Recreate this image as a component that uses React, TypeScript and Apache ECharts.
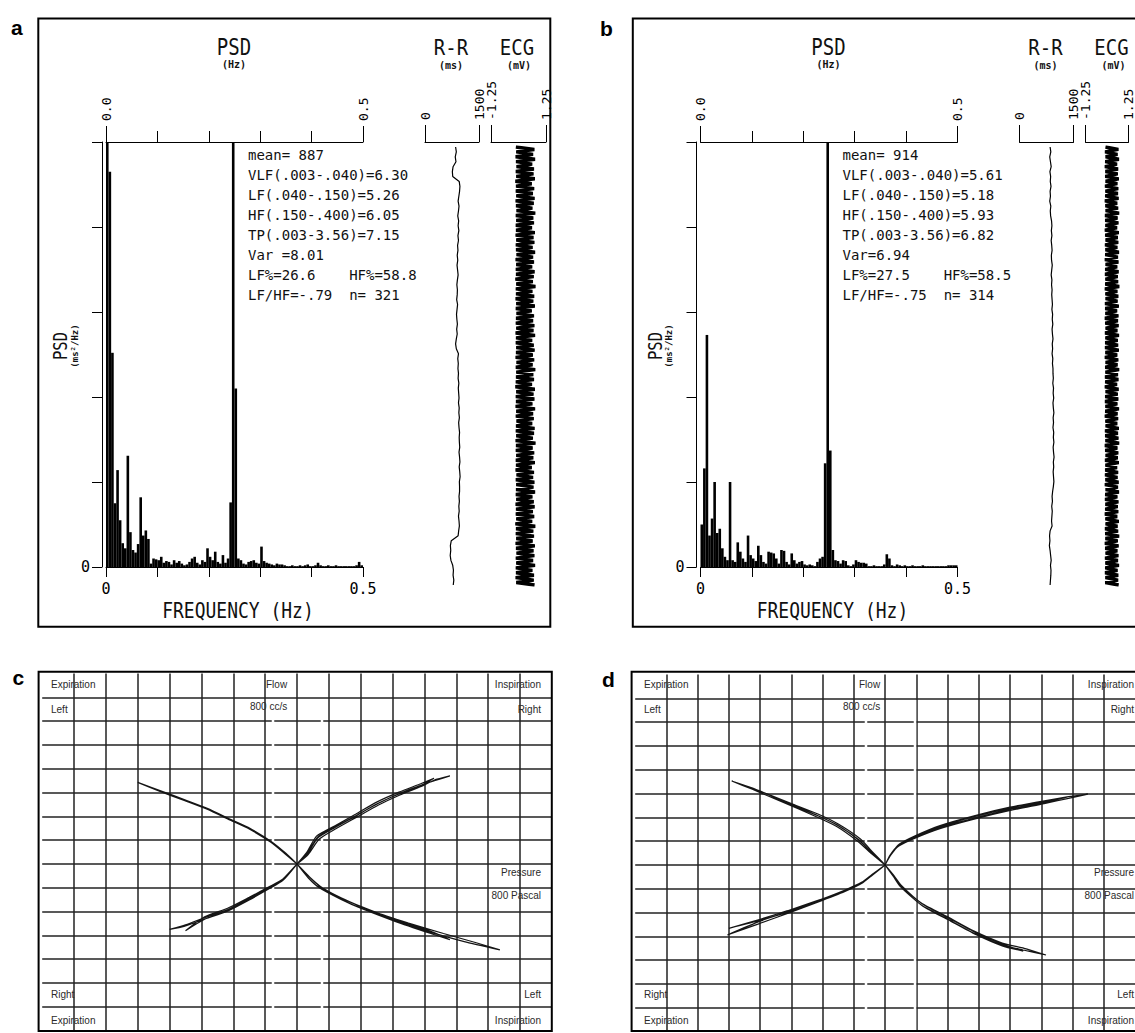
import React, { useEffect, useRef } from "react";
import * as echarts from "echarts";

const CHART_W = 1135;
const CHART_H = 1033;

// ---------- Panels a & b: PSD spectra (0.005 Hz bins, axis units 0–5, values ≥5 are off scale) ----------
const psdBinHz = 0.005;
const psdBottomLabelsHz = [0, 0.5];
const psdYLabels = [0];

const psdA = [
  5, 4.65, 2.52, 0.75, 1.14, 0.55, 0.28, 0.22, 1.31, 0.41,
  0.2, 0.17, 0.27, 0.82, 0.37, 0.43, 0.33, 0.04, 0.1, 0.09,
  0.08, 0.12, 0.05, 0.07, 0.06, 0.03, 0.08, 0.05, 0.07, 0.04,
  0.02, 0.03, 0.06, 0.1, 0.12, 0.05, 0.03, 0.08, 0.06, 0.22,
  0.12, 0.08, 0.18, 0.06, 0.04, 0.14, 0.05, 0.1, 0.76, 5,
  2.1, 0.1, 0.08, 0.04, 0.03, 0.06, 0.07, 0.08, 0.05, 0.04,
  0.24, 0.07, 0.05, 0.04, 0.03, 0.02, 0.04, 0.03, 0.03, 0.02,
  0.01, 0.01, 0.02, 0.01, 0.01, 0.02, 0.01, 0.02, 0.03, 0.01,
  0.01, 0.02, 0.05, 0.02, 0.01, 0.01, 0.02, 0.01, 0.01, 0.02,
  0.01, 0.01, 0.01, 0.01, 0.01, 0.01, 0.01, 0.02, 0.06, 0.02,
];
const psdB = [
  0.5, 1.16, 2.73, 0.37, 0.57, 1.0, 0.4, 0.45, 0.22, 0.12,
  0.08, 1.0, 0.08, 0.06, 0.29, 0.18, 0.1, 0.06, 0.37, 0.14,
  0.1, 0.07, 0.25, 0.14, 0.06, 0.04, 0.18, 0.17, 0.16, 0.1,
  0.04, 0.2, 0.19, 0.06, 0.03, 0.16, 0.08, 0.04, 0.06, 0.07,
  0.03, 0.02, 0.03, 0.02, 0.01, 0.06, 0.1, 0.12, 1.22, 5,
  1.37, 0.2, 0.08, 0.07, 0.04, 0.08, 0.07, 0.02, 0.01, 0.03,
  0.08, 0.06, 0.05, 0.05, 0.04, 0.01, 0.01, 0.02, 0.01, 0.01,
  0.01, 0.03, 0.15, 0.1, 0.02, 0.01, 0.03, 0.02, 0.01, 0.02,
  0.01, 0.01, 0.02, 0.01, 0.01, 0.01, 0.02, 0.01, 0.01, 0.01,
  0.01, 0.01, 0.01, 0.01, 0.01, 0.01, 0.02, 0.02, 0.02, 0.02,
];

// R-R intervals (ms), in time order from top to bottom
const rrA = [
  850, 870, 840, 860, 780, 760, 770, 950, 970, 960,
  940, 920, 945, 930, 910, 935, 920, 940, 915, 930,
  905, 915, 895, 910, 890, 905, 920, 900, 885, 900,
  895, 880, 905, 890, 875, 885, 900, 880, 895, 870,
  850, 870, 930, 910, 925, 915, 930, 920, 940, 925,
  935, 945, 930, 950, 940, 955, 935, 945, 960, 950,
  955, 965, 945, 960, 970, 950, 965, 975, 955, 960,
  960, 945, 955, 940, 950, 930, 945, 955, 935, 920,
  730, 705, 715, 700, 720, 770, 790, 780, 800, 785,
];
const rrB = [
  850, 870, 840, 860, 880, 845, 865, 855, 875, 850,
  860, 840, 870, 855, 865, 890, 900, 885, 900, 880,
  895, 905, 885, 890, 910, 895, 880, 900, 890, 905,
  895, 905, 915, 900, 920, 910, 925, 905, 915, 930,
  910, 920, 905, 925, 915, 930, 930, 940, 925, 945,
  935, 950, 930, 940, 955, 935, 945, 930, 950, 940,
  955, 935, 945, 960, 940, 950, 935, 945, 955, 940,
  920, 905, 915, 895, 910, 900, 890, 905, 850, 835,
  845, 830, 850, 865, 880, 860, 875, 870, 860, 850,
];

// ECG (mV): R-peak and S-trough of each beat, top to bottom
const ecgPeakA = [
  0.72, 0.66, 0.75, 0.62, 0.70, 0.68, 0.74, 0.60, 0.71, 0.65,
  0.73, 0.69, 0.63, 0.76, 0.67, 0.70, 0.61, 0.74, 0.68, 0.72,
  0.64, 0.75, 0.66, 0.70, 0.62, 0.73, 0.69, 0.65, 0.77, 0.63,
  0.71, 0.67, 0.74, 0.60, 0.70, 0.66, 0.72, 0.68, 0.75, 0.62,
  0.69, 0.73, 0.65, 0.71, 0.64, 0.76, 0.67, 0.70, 0.61, 0.74,
  0.68, 0.72, 0.63, 0.75, 0.66, 0.69, 0.62, 0.73, 0.70, 0.65,
  0.77, 0.64, 0.71, 0.67, 0.74, 0.60, 0.70, 0.66, 0.72, 0.68,
  0.75, 0.63, 0.69, 0.73, 0.65, 0.71, 0.62, 0.76, 0.67, 0.70,
  0.64, 0.74, 0.68, 0.72, 0.66, 0.75, 0.63, 0.70, 0.69, 0.73,
];
const ecgTroughA = [
  -0.12, -0.10, -0.13, -0.11, -0.09, -0.12, -0.10, -0.14, -0.11, -0.12,
  -0.10, -0.13, -0.11, -0.09, -0.12, -0.10, -0.12, -0.11, -0.13, -0.10,
  -0.12, -0.11, -0.09, -0.13, -0.10, -0.12, -0.11, -0.14, -0.10, -0.12,
  -0.11, -0.13, -0.10, -0.12, -0.09, -0.11, -0.12, -0.10, -0.13, -0.11,
  -0.12, -0.10, -0.11, -0.13, -0.09, -0.12, -0.10, -0.11, -0.12, -0.14,
  -0.10, -0.12, -0.11, -0.13, -0.10, -0.12, -0.09, -0.11, -0.12, -0.10,
  -0.13, -0.11, -0.12, -0.10, -0.12, -0.11, -0.13, -0.09, -0.12, -0.10,
  -0.11, -0.12, -0.10, -0.13, -0.11, -0.12, -0.10, -0.14, -0.11, -0.12,
  -0.10, -0.13, -0.11, -0.09, -0.12, -0.10, -0.12, -0.11, -0.13, -0.10,
];
const ecgPeakB = [
  0.66, 0.61, 0.69, 0.58, 0.64, 0.62, 0.68, 0.60, 0.65, 0.63,
  0.67, 0.59, 0.64, 0.70, 0.61, 0.66, 0.58, 0.68, 0.62, 0.65,
  0.60, 0.69, 0.63, 0.66, 0.59, 0.67, 0.62, 0.64, 0.71, 0.60,
  0.65, 0.61, 0.68, 0.58, 0.66, 0.63, 0.67, 0.60, 0.69, 0.62,
  0.64, 0.68, 0.59, 0.65, 0.61, 0.70, 0.63, 0.66, 0.58, 0.67,
  0.62, 0.65, 0.60, 0.69, 0.61, 0.64, 0.59, 0.68, 0.63, 0.66,
  0.70, 0.60, 0.65, 0.62, 0.68, 0.58, 0.64, 0.61, 0.67, 0.63,
  0.69, 0.60, 0.66, 0.62, 0.65, 0.59, 0.68, 0.61, 0.64, 0.70,
  0.62, 0.67, 0.60, 0.66, 0.63, 0.69, 0.61, 0.65, 0.64, 0.68,
];
const ecgTroughB = [
  -0.09, -0.11, -0.08, -0.10, -0.12, -0.09, -0.10, -0.08, -0.11, -0.09,
  -0.10, -0.12, -0.09, -0.08, -0.11, -0.10, -0.09, -0.12, -0.10, -0.08,
  -0.11, -0.09, -0.10, -0.12, -0.08, -0.10, -0.11, -0.09, -0.10, -0.12,
  -0.09, -0.08, -0.11, -0.10, -0.09, -0.12, -0.10, -0.08, -0.11, -0.09,
  -0.10, -0.11, -0.09, -0.12, -0.08, -0.10, -0.09, -0.11, -0.10, -0.12,
  -0.08, -0.10, -0.11, -0.09, -0.10, -0.12, -0.09, -0.08, -0.11, -0.10,
  -0.09, -0.12, -0.10, -0.08, -0.11, -0.09, -0.10, -0.11, -0.09, -0.12,
  -0.08, -0.10, -0.11, -0.09, -0.10, -0.12, -0.09, -0.08, -0.11, -0.10,
  -0.09, -0.12, -0.10, -0.08, -0.11, -0.09, -0.10, -0.11, -0.09, -0.10,
];

const statsA = [
  "mean= 887",
  "VLF(.003-.040)=6.30",
  "LF(.040-.150)=5.26",
  "HF(.150-.400)=6.05",
  "TP(.003-3.56)=7.15",
  "Var =8.01",
  "LF%=26.6    HF%=58.8",
  "LF/HF=-.79  n= 321",
];
const statsB = [
  "mean= 914",
  "VLF(.003-.040)=5.61",
  "LF(.040-.150)=5.18",
  "HF(.150-.400)=5.93",
  "TP(.003-3.56)=6.82",
  "Var=6.94",
  "LF%=27.5    HF%=58.5",
  "LF/HF=-.75  n= 314",
];

// ---------- Panels c & d: flow (cc/s) against pressure (Pa), [pressure, flow] ----------
const cUpperLeft = [
  [0, 0], [-35, 45], [-80, 94], [-148, 150], [-204, 185], [-282, 234], [-350, 269], [-428, 308], [-500, 343],
  [-430, 305], [-352, 266], [-284, 231], [-206, 182], [-150, 147], [-82, 91], [-37, 42], [0, 0],
];
const cLowerRight = [
  [0, 0], [32, -53], [66, -95], [133, -144], [189, -179], [301, -235], [413, -284], [525, -326], [637, -361],
  [560, -330], [460, -292], [350, -248], [240, -200], [150, -150], [80, -100], [40, -55], [0, 0],
  [35, -58], [70, -100], [140, -150], [200, -186], [310, -242], [420, -292], [480, -318],
  [420, -283], [310, -234], [200, -178], [140, -143], [70, -92], [35, -50], [0, 0],
];
const cLowerLeft = [
  [0, 0], [-47, -67], [-80, -95], [-148, -144], [-215, -190], [-282, -221], [-350, -256], [-400, -275],
  [-355, -262], [-285, -229], [-215, -196], [-150, -151], [-85, -102], [-45, -70], [0, 0],
  [-45, -64], [-82, -92], [-150, -140], [-218, -186], [-290, -222], [-350, -280],
  [-290, -232], [-220, -198], [-150, -148], [-80, -98], [-40, -60], [0, 0],
];
const cUpperRight = [
  [0, 0], [32, 45], [66, 115], [122, 157], [189, 206], [256, 255], [323, 297], [391, 332], [480, 370],
  [430, 352], [390, 326], [323, 290], [256, 248], [189, 198], [122, 148], [70, 105], [35, 40], [0, 0],
  [30, 48], [62, 118], [118, 160], [185, 210], [250, 260], [320, 302], [390, 338], [430, 360],
  [390, 330], [320, 294], [250, 252], [185, 202], [118, 152], [64, 108], [33, 42], [0, 0],
];
const dUpperLeft = [
  [0, 0], [-40, 49], [-85, 105], [-153, 168], [-220, 210], [-332, 273], [-422, 322], [-491, 353],
  [-425, 318], [-335, 268], [-222, 204], [-155, 162], [-88, 100], [-42, 46], [0, 0],
  [-38, 52], [-80, 110], [-150, 172], [-215, 214], [-300, 258], [-380, 300],
  [-300, 252], [-215, 207], [-150, 165], [-82, 104], [-40, 48], [0, 0],
];
const dLowerRight = [
  [0, 0], [27, -49], [49, -91], [116, -168], [206, -231], [285, -287], [374, -336], [442, -357], [515, -378],
  [445, -350], [375, -328], [285, -278], [206, -222], [116, -160], [52, -86], [29, -46], [0, 0],
  [30, -52], [52, -95], [120, -172], [210, -236], [290, -292], [375, -340], [442, -362],
  [375, -332], [290, -284], [210, -228], [120, -164], [52, -90], [30, -48], [0, 0],
];
const dLowerLeft = [
  [0, 0], [-40, -42], [-74, -77], [-130, -112], [-220, -158], [-310, -202], [-400, -245], [-505, -294],
  [-400, -236], [-310, -195], [-220, -152], [-130, -106], [-74, -72], [-40, -40], [0, 0],
  [-42, -40], [-76, -74], [-132, -108], [-222, -152], [-312, -192], [-400, -228], [-500, -266],
  [-400, -232], [-312, -198], [-222, -156], [-132, -111], [-76, -76], [-42, -43], [0, 0],
];
const dUpperRight = [
  [0, 0], [16, 42], [44, 84], [94, 119], [173, 161], [285, 203], [397, 238], [509, 266], [587, 287], [649, 298],
  [587, 280], [509, 258], [397, 228], [285, 193], [173, 152], [94, 112], [44, 80], [16, 40], [0, 0],
  [18, 44], [46, 88], [98, 124], [176, 166], [288, 208], [400, 243], [510, 270], [587, 287],
  [510, 262], [400, 234], [288, 198], [176, 157], [98, 116], [46, 84], [18, 41], [0, 0],
];

// ---------- helpers ----------
const MONO = '"DejaVu Sans Mono"';
const SANS = '"Liberation Sans", Arial';
const monoFont = (size: number, bold = false) => `${bold ? "bold " : ""}${size}px ${MONO}`;

function T(x: number, y: number, text: string, font: string, o: any = {}) {
  const align = o.align ?? "center";
  const va = o.va ?? "middle";
  return {
    type: "text",
    x,
    y,
    rotation: o.rot ?? 0,
    scaleX: o.sx ?? 1,
    scaleY: o.sy ?? 1,
    z: o.z ?? 20,
    silent: true,
    style: {
      text,
      font,
      fill: o.fill ?? "#111",
      align,
      verticalAlign: va,
      textAlign: align,
      textVerticalAlign: va,
      lineHeight: o.lh,
    },
  };
}

function frameRect(x: number, y: number, w: number, h: number, lw: number) {
  return {
    type: "rect",
    z: 15,
    silent: true,
    shape: { x, y, width: w, height: h },
    style: { fill: "none", stroke: "#000", lineWidth: lw },
  };
}

const hasTick = (list: number[], v: number) => list.some((t) => Math.abs(t - v) < 1e-6);

function addSpectrumPanel(
  o: any, dx: number, psd: number[], rr: number[], peaks: number[], troughs: number[],
  stats: string[], letter: string, letterX: number, letterY: number
) {
  const black = { color: "#000", width: 1 };
  // --- PSD bar chart ---
  const g = o.grid.length;
  o.grid.push({ left: 106 + dx, top: 142, width: 257, height: 425 });
  const xb = o.xAxis.length;
  o.xAxis.push({
    gridIndex: g, type: "value", position: "bottom", min: 0, max: 0.5, interval: 0.1,
    axisLine: { show: true, onZero: false, lineStyle: black },
    axisTick: { show: true, length: 10, lineStyle: black },
    splitLine: { show: false },
    axisLabel: {
      show: true, margin: 14, color: "#000", fontFamily: MONO, fontSize: 15,
      formatter: (v: number) => (hasTick(psdBottomLabelsHz, v) ? String(+v.toFixed(3)) : ""),
    },
  });
  o.xAxis.push({
    gridIndex: g, type: "value", position: "top", min: 0, max: 0.5, interval: 0.1,
    axisLine: { show: true, onZero: false, lineStyle: black },
    axisTick: { show: true, length: 11, lineStyle: black },
    splitLine: { show: false },
    axisLabel: { show: false },
  });
  o.xAxis.push({
    gridIndex: g, type: "value", position: "top", min: 0, max: 0.5, interval: 0.5,
    axisLine: { show: false, onZero: false },
    axisTick: { show: true, length: 16, lineStyle: black },
    splitLine: { show: false },
    axisLabel: {
      show: true, rotate: -90, margin: 21, color: "#000", fontFamily: MONO, fontSize: 13,
      formatter: (v: number) => v.toFixed(1),
    },
  });
  const yb = o.yAxis.length;
  o.yAxis.push({
    gridIndex: g, type: "value", min: 0, max: 5, interval: 1, offset: 4,
    axisLine: { show: true, onZero: false, lineStyle: black },
    axisTick: { show: true, length: 10, lineStyle: black },
    splitLine: { show: false },
    axisLabel: {
      show: true, margin: 12, color: "#000", fontFamily: MONO, fontSize: 15,
      formatter: (v: number) => (hasTick(psdYLabels, v) ? String(v) : ""),
    },
  });
  o.series.push({
    type: "bar", xAxisIndex: xb, yAxisIndex: yb, silent: true, clip: true,
    barWidth: 2.6, itemStyle: { color: "#000" },
    data: psd.map((v, i) => [(i + 0.5) * psdBinHz, v]),
  });

  // --- R-R trace ---
  const gr = o.grid.length;
  o.grid.push({ left: 425 + dx, top: 147, width: 54, height: 438 });
  const xr = o.xAxis.length;
  o.xAxis.push({
    gridIndex: gr, type: "value", position: "top", offset: 5, min: 0, max: 1500, interval: 1500,
    axisLine: { show: true, onZero: false, lineStyle: black },
    axisTick: { show: true, length: 17, lineStyle: black },
    splitLine: { show: false },
    axisLabel: {
      show: true, rotate: -90, margin: 22, color: "#000", fontFamily: MONO, fontSize: 13,
      formatter: (v: number) => String(v),
    },
  });
  const yr = o.yAxis.length;
  o.yAxis.push({ gridIndex: gr, type: "value", inverse: true, min: 0, max: rr.length - 1, show: false });
  o.series.push({
    type: "line", xAxisIndex: xr, yAxisIndex: yr, silent: true, showSymbol: false,
    lineStyle: { color: "#000", width: 1.2 },
    data: rr.map((v, i) => [v, i]),
  });

  // --- ECG strip ---
  const ge = o.grid.length;
  o.grid.push({ left: 491 + dx, top: 147, width: 55, height: 438 });
  const xe = o.xAxis.length;
  o.xAxis.push({
    gridIndex: ge, type: "value", position: "top", offset: 5, min: -1.25, max: 1.25, interval: 2.5,
    axisLine: { show: true, onZero: false, lineStyle: black },
    axisTick: { show: true, length: 17, lineStyle: black },
    splitLine: { show: false },
    axisLabel: {
      show: true, rotate: -90, margin: 22, color: "#000", fontFamily: MONO, fontSize: 13,
      formatter: (v: number) => v.toFixed(2),
    },
  });
  const ye = o.yAxis.length;
  o.yAxis.push({ gridIndex: ge, type: "value", inverse: true, min: 0, max: peaks.length - 0.5, show: false });
  const ecgPath: number[][] = [];
  peaks.forEach((p, i) => {
    ecgPath.push([troughs[i], i]);
    ecgPath.push([p, i + 0.5]);
  });
  o.series.push({
    type: "line", xAxisIndex: xe, yAxisIndex: ye, silent: true, showSymbol: false,
    lineStyle: { color: "#000", width: 3.4, join: "miter" },
    data: ecgPath,
  });

  // --- texts & frame ---
  const gr2 = o.graphic;
  gr2.push(frameRect(38.3 + dx, 18.5, 512, 608.3, 2));
  gr2.push(T(letterX, letterY, letter, `bold 21px ${SANS}`, { align: "left", fill: "#000" }));
  gr2.push(T(234 + dx, 47, "PSD", monoFont(19), { sy: 1.2 }));
  gr2.push(T(234 + dx, 64, "(Hz)", monoFont(10, true)));
  gr2.push(T(451 + dx, 48, "R-R", monoFont(19), { sy: 1.1 }));
  gr2.push(T(451 + dx, 65, "(ms)", monoFont(10, true)));
  gr2.push(T(517 + dx, 48, "ECG", monoFont(19), { sy: 1.1 }));
  gr2.push(T(519 + dx, 65, "(mV)", monoFont(10, true)));
  gr2.push(T(248 + dx, 145, stats.join("\n"), monoFont(14), { align: "left", va: "top", lh: 20 }));
  gr2.push(T(60 + dx, 346, "PSD", monoFont(15.5), { rot: Math.PI / 2, sy: 1.3 }));
  gr2.push(T(74.5 + dx, 346, "(ms²/Hz)", monoFont(9, true), { rot: Math.PI / 2 }));
  gr2.push(T(238 + dx, 611, "FREQUENCY (Hz)", monoFont(18), { sy: 1.15 }));
}

function addLoopPanel(o: any, dx: number, dy: number, branches: number[][][], letter: string, letterX: number, letterY: number) {
  const cx = 297 + dx;
  const cy = 864 + dy;
  const g = o.grid.length;
  o.grid.push({ left: cx - 8 * 31.85, top: cy - 8 * 23.8, width: 16 * 31.85, height: 15 * 23.8 });
  const gridLine = { show: true, showMinLine: false, showMaxLine: false, lineStyle: { color: "#222", width: 1.5 } };
  const xi = o.xAxis.length;
  o.xAxis.push({
    gridIndex: g, type: "value", min: -800, max: 800, interval: 100,
    axisLine: { show: false }, axisTick: { show: false }, axisLabel: { show: false }, splitLine: gridLine,
  });
  const yi = o.yAxis.length;
  o.yAxis.push({
    gridIndex: g, type: "value", min: -700, max: 800, interval: 100,
    axisLine: { show: false }, axisTick: { show: false }, axisLabel: { show: false }, splitLine: gridLine,
  });
  branches.forEach((b) => {
    o.series.push({
      type: "line", xAxisIndex: xi, yAxisIndex: yi, silent: true, showSymbol: false, smooth: 0.2,
      lineStyle: { color: "#151515", width: 1.2 },
      data: b,
    });
  });
  const gr = o.graphic;
  gr.push(frameRect(38.6 + dx, 671.7, 513.2, 359.3, 2));
  [cx - 24, cx + 25].forEach((x) => {
    gr.push({ type: "line", z: 1, silent: true, shape: { x1: x, y1: 700, x2: x, y2: 1030 }, style: { stroke: "#fff", lineWidth: 2.5 } });
  });
  gr.push(T(letterX, letterY, letter, `bold 21px ${SANS}`, { align: "left", fill: "#000" }));
  const f = `10px ${SANS}`;
  const fill = "#2a2a2a";
  const L = (x: number, y: number, s: string, align: string) => gr.push(T(x + dx, y, s, f, { align, fill }));
  L(51, 684, "Expiration", "left");
  L(266, 684, "Flow", "left");
  L(541, 684, "Inspiration", "right");
  L(51, 709, "Left", "left");
  L(250, 706, "800 cc/s", "left");
  L(541, 709, "Right", "right");
  L(541, 872, "Pressure", "right");
  L(541, 895, "800 Pascal", "right");
  L(51, 994, "Right", "left");
  L(541, 994, "Left", "right");
  L(51, 1020, "Expiration", "left");
  L(541, 1020, "Inspiration", "right");
}

function buildOption() {
  const o: any = { grid: [], xAxis: [], yAxis: [], series: [], graphic: [] };
  addSpectrumPanel(o, 0, psdA, rrA, ecgPeakA, ecgTroughA, statsA, "a", 11, 27);
  addSpectrumPanel(o, 594.5, psdB, rrB, ecgPeakB, ecgTroughB, statsB, "b", 600, 28);
  addLoopPanel(o, 0, 0, [cUpperLeft, cLowerRight, cLowerLeft, cUpperRight], "c", 12.5, 677);
  addLoopPanel(o, 593, 1, [dUpperLeft, dLowerRight, dLowerLeft, dUpperRight], "d", 602, 679);
  return {
    animation: false,
    backgroundColor: "#fff",
    textStyle: { fontFamily: MONO },
    grid: o.grid,
    xAxis: o.xAxis,
    yAxis: o.yAxis,
    series: o.series,
    graphic: { elements: o.graphic },
  };
}

export default function App() {
  const ref = useRef<HTMLDivElement>(null);
  useEffect(() => {
    if (!ref.current) return;
    const chart = echarts.init(ref.current, undefined, { renderer: "svg", width: CHART_W, height: CHART_H });
    chart.setOption(buildOption() as any);
    return () => chart.dispose();
  }, []);
  return (
    <div
      ref={ref}
      style={{ position: "absolute", left: 0, top: 0, width: CHART_W, height: CHART_H, background: "#fff" }}
    />
  );
}
